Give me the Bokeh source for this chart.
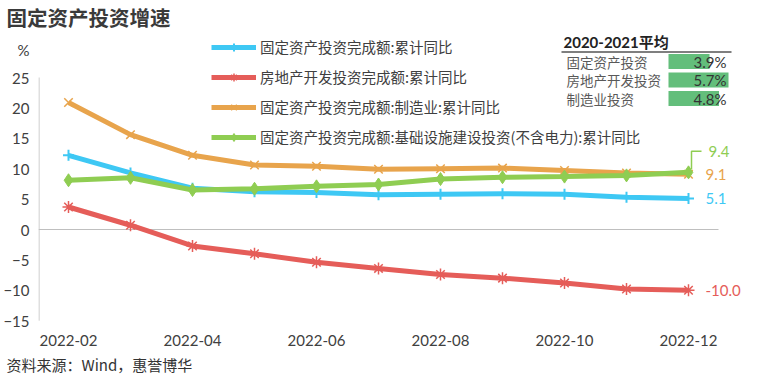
from bokeh.plotting import figure
from bokeh.models import Range1d, FixedTicker, Legend, LegendItem, Title, ColumnDataSource
from bokeh.core.properties import value
from bokeh.embed import file_html
from bokeh.resources import INLINE

# ---------------- data ----------------
months = ["2022-02", "2022-03", "2022-04", "2022-05", "2022-06", "2022-07",
          "2022-08", "2022-09", "2022-10", "2022-11", "2022-12"]
fai = [12.2, 9.3, 6.8, 6.2, 6.1, 5.7, 5.8, 5.9, 5.8, 5.3, 5.1]
real_estate = [3.7, 0.7, -2.7, -4.0, -5.4, -6.4, -7.4, -8.0, -8.8, -9.8, -10.0]
manufacturing = [20.9, 15.6, 12.2, 10.6, 10.4, 9.9, 10.0, 10.1, 9.7, 9.3, 9.1]
infrastructure = [8.1, 8.5, 6.5, 6.7, 7.1, 7.4, 8.3, 8.6, 8.7, 8.9, 9.4]

series_names = ["固定资产投资完成额:累计同比",
                "房地产开发投资完成额:累计同比",
                "固定资产投资完成额:制造业:累计同比",
                "固定资产投资完成额:基础设施建设投资(不含电力):累计同比"]

y_ticks = [-15, -10, -5, 0, 5, 10, 15, 20, 25]
x_ticks = [0, 2, 4, 6, 8, 10]

tbl_title = "2020-2021平均"
tbl_labels = ["固定资产投资", "房地产开发投资", "制造业投资"]
tbl_values = [3.9, 5.7, 4.8]

title_text = "固定资产投资增速"
unit_text = "%"
source_text = "资料来源：Wind，惠誉博华"

# ---------------- styling / layout ----------------
ML, MT = 32, 30
FW, FH = 722, 290
PX_MONTH = 62.0
PX_UNIT = 6.08
X0_OFF = 30.0                    # px from frame left to first month
Y_TOP_TICK_PX = 45.0             # px from frame top down to the top tick (25)
UNIT_PX = 28.0                   # "%" sits this many px above the top tick

y_end = max(y_ticks) + Y_TOP_TICK_PX / PX_UNIT
y_start = y_end - FH / PX_UNIT
x_start = -X0_OFF / PX_MONTH
x_end = x_start + FW / PX_MONTH

BLUE = "#3ec8f4"
RED = "#e55d59"
ORANGE = "#e8a44c"
GREEN = "#8fcd52"
TXT = "#404040"

p = figure(frame_width=FW, frame_height=FH, output_backend="svg", toolbar_location=None,
           x_range=Range1d(x_start, x_end), y_range=Range1d(y_start, y_end),
           min_border_left=ML, min_border_right=0, min_border_top=MT,
           min_border_bottom=0, outline_line_color=None,
           background_fill_color="white", border_fill_color="white")
p.xgrid.visible = False
p.ygrid.visible = False

# title (above) and source note (below)
p.title = Title(text=title_text, align="left", offset=-ML, standoff=0,
                vertical_align="middle", text_font="Noto Sans CJK SC",
                text_font_style="bold", text_font_size="20.5px", text_color="#3a3a3a")

# y axis (unit "%" shown as the topmost label)
unit_tick = max(y_ticks) + UNIT_PX / PX_UNIT
p.yaxis.ticker = FixedTicker(ticks=y_ticks + [unit_tick])
p.yaxis.major_label_overrides = {unit_tick: unit_text}
p.yaxis.axis_line_color = None
p.yaxis.major_tick_line_color = None
p.yaxis.minor_tick_line_color = None
p.yaxis.major_tick_out = 0
p.yaxis.major_label_standoff = 9
p.yaxis.major_label_text_font = "Lato"
p.yaxis.major_label_text_font_size = "15px"
p.yaxis.major_label_text_color = TXT
# visible axis line only over the tick span
p.segment(x0=[x_start + 0.5 / PX_MONTH], y0=[min(y_ticks)],
          x1=[x_start + 0.5 / PX_MONTH], y1=[max(y_ticks)],
          line_color="#bfbfbf", line_width=1)

p.xaxis.ticker = FixedTicker(ticks=x_ticks)
p.xaxis.major_label_overrides = {i: months[i] for i in x_ticks}
p.xaxis.axis_line_color = None
p.xaxis.major_tick_line_color = None
p.xaxis.minor_tick_line_color = None
p.xaxis.major_tick_out = 0
p.xaxis.major_label_standoff = 12
p.xaxis.major_label_text_font = "Lato"
p.xaxis.major_label_text_font_size = "15px"
p.xaxis.major_label_text_color = TXT

p.add_layout(Title(text=source_text, align="left", offset=-ML, standoff=7,
                   text_font="Noto Sans CJK SC", text_font_style="normal",
                   text_font_size="15px", text_color="#333333"), "below")

# zero line
n = len(months)
p.segment(x0=[x_start], y0=[0], x1=[n - 1 + X0_OFF / PX_MONTH], y1=[0],
          line_color="#bfbfbf", line_width=1)

xs = list(range(n))
src = ColumnDataSource(dict(x=xs, fai=fai, re=real_estate, mfg=manufacturing, inf=infrastructure))

items = []
specs = [("fai", BLUE, "cross", 11, 2),
         ("re", RED, "asterisk", 12, 1.5),
         ("mfg", ORANGE, "x", 12, 1.5),
         ("inf", GREEN, "diamond", 13, 1)]
for (col, color, marker, size, mlw), name in zip(specs, series_names):
    ln = p.line("x", col, source=src, line_color=color, line_width=5)
    if marker == "diamond":
        mk = p.scatter("x", col, source=src, marker=marker, size=size,
                       fill_color=color, line_color=color, line_width=mlw)
    else:
        mk = p.scatter("x", col, source=src, marker=marker, size=size,
                       line_color=color, line_width=mlw)
    items.append(LegendItem(label=name, renderers=[ln, mk]))

# legend: location = (left, bottom) measured from the frame's bottom-left
LEG_ROWS = len(items)
leg_h = LEG_ROWS * 20 + (LEG_ROWS - 1) * 9
leg_top = 8          # px below frame top
legend = Legend(items=items, location=(173, FH - (leg_top + leg_h)), orientation="vertical",
                background_fill_alpha=0, border_line_color=None, padding=0, margin=0,
                spacing=9, glyph_width=45, glyph_height=20, label_height=20,
                label_standoff=4, label_text_font="Noto Sans CJK SC",
                label_text_font_size="14.5px", label_text_color=TXT)
p.add_layout(legend)

# end labels
last = n - 1
end_vals = [fai[-1], real_estate[-1], manufacturing[-1], infrastructure[-1]]
end_cols = [BLUE, RED, ORANGE, GREEN]
end_dy = [0, 0, 0, -21]
end_dx = [17, 17, 17, 20]
p.text(x=[last] * 4, y=end_vals, text=[f"{v:.1f}" for v in end_vals],
       x_offset=end_dx, y_offset=end_dy, text_color=end_cols,
       text_font=value("Lato"), text_font_size="15px", text_baseline="middle",
       text_align="left")
# leader line for infrastructure label
gx = last + 3 / PX_MONTH
p.line(x=[gx, gx, last + 13 / PX_MONTH],
       y=[infrastructure[-1] + 3 / PX_UNIT, infrastructure[-1] + 21 / PX_UNIT,
          infrastructure[-1] + 21 / PX_UNIT],
       line_color=GREEN, line_width=1.5)

# ---------------- summary table ----------------
BAR_MAX_PX = 60.0
BAR_ORIGIN = 630.0   # px from frame left
ROW_PX = 18.5
ROW0_TOP = 29.0      # px from frame top to first row centre
px_pct = BAR_MAX_PX / max(tbl_values)
p.extra_x_ranges = {"tx": Range1d(-BAR_ORIGIN / px_pct, (FW - BAR_ORIGIN) / px_pct)}
p.extra_y_ranges = {"ty": Range1d((FH - ROW0_TOP) / ROW_PX, -ROW0_TOP / ROW_PX)}
rows = list(range(len(tbl_labels)))

p.hbar(y=rows, left=0, right=tbl_values, height=15 / ROW_PX,
       x_range_name="tx", y_range_name="ty", fill_color="#63be7b", line_color=None)
p.text(x=[0] * len(rows), y=rows, text=tbl_labels, x_offset=-102,
       x_range_name="tx", y_range_name="ty", text_font=value("Noto Sans CJK SC"),
       text_font_size="13.5px", text_color="#595959", text_baseline="middle")
p.text(x=[0] * len(rows), y=rows, text=[f"{v:.1f}%" for v in tbl_values], x_offset=58,
       x_range_name="tx", y_range_name="ty", text_font=value("Lato"),
       text_font_size="15px", text_color="#333333", text_baseline="middle",
       text_align="right")
p.text(x=[0], y=[-1.08], text=[tbl_title], x_offset=-105,
       x_range_name="tx", y_range_name="ty",
       text_font=value("Lato, 'Noto Sans CJK SC'"), text_font_style="bold",
       text_font_size="15px", text_color="#222222", text_baseline="middle")
p.segment(x0=[-107 / px_pct], y0=[-0.51], x1=[63 / px_pct], y1=[-0.51],
          x_range_name="tx", y_range_name="ty", line_color="#7f7f7f", line_width=2)

open("out.html", "w").write(file_html(p, INLINE))
